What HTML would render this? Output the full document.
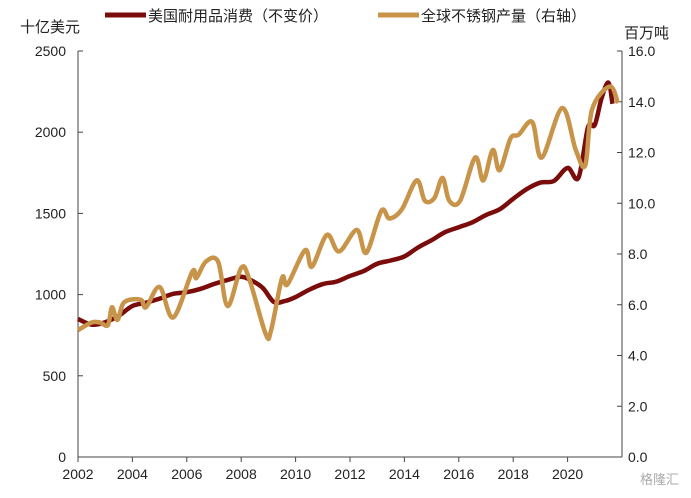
<!DOCTYPE html>
<html><head><meta charset="utf-8"><style>
body{margin:0;background:#fff;width:691px;height:493px;overflow:hidden;font-family:"Liberation Sans","Noto Sans CJK SC",sans-serif;}
svg text{font-family:"Liberation Sans","Noto Sans CJK SC",sans-serif;fill:#222;}
</style></head><body>
<svg id="chart" width="691" height="493" xmlns="http://www.w3.org/2000/svg">
<text x="20" y="32" font-size="15">十亿美元</text>
<text x="624" y="38" font-size="15">百万吨</text>
<line x1="105" y1="15" x2="146" y2="15" stroke="#7a0c0c" stroke-width="5"/>
<text x="148" y="21" font-size="15">美国耐用品消费（不变价）</text>
<line x1="378" y1="15" x2="419" y2="15" stroke="#c8944a" stroke-width="5"/>
<text x="421" y="21" font-size="15">全球不锈钢产量（右轴）</text>
<g id="axes"></g>
<g id="series"></g>
<text x="640" y="484" font-size="13" fill="#aaa" style="fill:#aaa">格隆汇</text>
</svg>
<script>
const xTicks=[2002,2004,2006,2008,2010,2012,2014,2016,2018,2020];
const leftTicks=[0,500,1000,1500,2000,2500];
const rightTicks=["0.0","2.0","4.0","6.0","8.0","10.0","12.0","14.0","16.0"];
const durT=[2002,2002.5,2003,2003.5,2004,2004.5,2005,2005.5,2006,2006.5,2007,2007.5,2008,2008.4,2008.8,2009.2,2009.6,2010,2010.5,2011,2011.5,2012,2012.5,2013,2013.5,2014,2014.5,2015,2015.5,2016,2016.5,2017,2017.5,2018,2018.5,2019,2019.5,2020,2020.4,2020.75,2021,2021.25,2021.5,2021.65];
const durV=[850,815,830,870,930,950,975,1005,1015,1035,1065,1090,1110,1085,1040,955,960,985,1030,1065,1080,1115,1145,1190,1210,1235,1290,1335,1385,1415,1445,1490,1525,1590,1650,1690,1700,1780,1720,2030,2045,2210,2305,2175];
const stlT=[2002,2002.5,2002.8,2003.1,2003.25,2003.45,2003.7,2004.3,2004.5,2005,2005.5,2006.2,2006.35,2006.7,2007.15,2007.5,2008,2008.3,2008.9,2009.1,2009.5,2009.7,2010.35,2010.6,2011.15,2011.6,2012.25,2012.6,2013.15,2013.45,2013.9,2014.45,2014.75,2015.1,2015.4,2015.65,2016.05,2016.6,2016.9,2017.25,2017.5,2017.9,2018.2,2018.7,2019.05,2019.8,2020.3,2020.65,2020.9,2021.55,2021.85];
const stlV=[5.0,5.3,5.3,5.2,5.9,5.4,6.1,6.2,5.9,6.7,5.5,7.3,7.05,7.7,7.7,5.95,7.45,7.0,4.85,5.0,7.05,6.8,8.15,7.5,8.75,8.1,8.95,8.05,9.7,9.4,9.75,10.9,10.1,10.2,11.0,10.1,10.1,11.8,10.9,12.1,11.3,12.55,12.7,13.2,11.8,13.75,12.1,11.5,13.7,14.6,13.95];
const X0=78,X1=622,Y0=457,Y1=51;
const xs=t=>X0+(t-2002)/20*(X1-X0);
const yl=v=>Y0-v/2500*(Y0-Y1);
const yr=v=>Y0-v/16*(Y0-Y1);
const NS="http://www.w3.org/2000/svg";
const ax=document.getElementById('axes'),se=document.getElementById('series');
function mk(tag,attrs,parent,txt){const e=document.createElementNS(NS,tag);for(const k in attrs)e.setAttribute(k,attrs[k]);if(txt!==undefined)e.textContent=txt;parent.appendChild(e);return e;}
let e;
e=mk('line',{x1:X0,y1:Y1,x2:X0,y2:Y0,stroke:'#444','stroke-width':1},ax);


e=mk('line',{x1:X1,y1:Y1,x2:X1,y2:Y0,stroke:'#444','stroke-width':1},ax);


e=mk('line',{x1:X0,y1:Y0,x2:X1,y2:Y0,stroke:'#444','stroke-width':1},ax);


leftTicks.forEach(v=>{const y=yl(v);
 e=mk('line',{x1:X0,y1:y,x2:X0+5,y2:y,stroke:'#444'},ax);
 
 
 e=mk('text',{x:X0-12,y:y+5,'font-size':14,'text-anchor':'end'},ax,String(v));
 
 });
rightTicks.forEach(s=>{const y=yr(parseFloat(s));
 e=mk('line',{x1:X1-5,y1:y,x2:X1,y2:y,stroke:'#444'},ax);
 
 
 e=mk('text',{x:X1+6,y:y+5,'font-size':14},ax,s);
 
 });
xTicks.forEach(t=>{const x=xs(t);
 e=mk('line',{x1:x,y1:Y0,x2:x,y2:Y0+5,stroke:'#444'},ax);
 
 
 e=mk('text',{x:x,y:Y0+22,'font-size':14,'text-anchor':'middle'},ax,String(t));
 
 });
function path(pts){let d='M'+pts[0][0]+','+pts[0][1];
 for(let i=0;i<pts.length-1;i++){const p0=pts[Math.max(i-1,0)],p1=pts[i],p2=pts[i+1],p3=pts[Math.min(i+2,pts.length-1)];
  const c1=[p1[0]+(p2[0]-p0[0])/6,p1[1]+(p2[1]-p0[1])/6],c2=[p2[0]-(p3[0]-p1[0])/6,p2[1]-(p3[1]-p1[1])/6];
  d+=' C'+c1[0]+','+c1[1]+' '+c2[0]+','+c2[1]+' '+p2[0]+','+p2[1];}
 return d;}
e=mk('path',{d:path(durT.map((t,i)=>[xs(t),yl(durV[i])])),fill:'none',stroke:'#7a0c0c','stroke-width':4.5,'stroke-linejoin':'round'},se);


e=mk('path',{d:path(stlT.map((t,i)=>[xs(t),yr(stlV[i])])),fill:'none',stroke:'#c8944a','stroke-width':4.5,'stroke-linejoin':'round'},se);


</script>
</body></html>
